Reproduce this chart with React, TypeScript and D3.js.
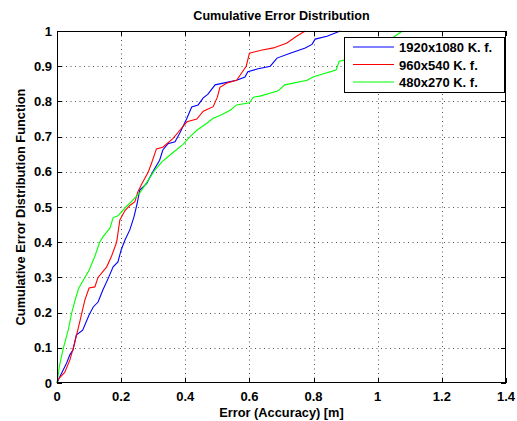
import React from "react";
import * as d3 from "d3";

type P = [number, number];

const blueSeries: P[] = [
  [0, 0], [0.01, 0.02], [0.03, 0.057], [0.04, 0.08], [0.05, 0.094], [0.06, 0.136], [0.08, 0.15],
  [0.1, 0.193], [0.113, 0.216], [0.128, 0.23], [0.143, 0.264], [0.16, 0.298], [0.175, 0.33],
  [0.19, 0.344], [0.2, 0.378], [0.212, 0.406], [0.227, 0.435], [0.24, 0.472], [0.25, 0.51],
  [0.258, 0.548], [0.28, 0.567], [0.29, 0.585], [0.305, 0.61], [0.32, 0.633], [0.33, 0.662],
  [0.346, 0.68], [0.368, 0.685], [0.383, 0.71], [0.404, 0.75], [0.42, 0.784], [0.44, 0.79],
  [0.456, 0.81], [0.47, 0.82], [0.493, 0.847], [0.518, 0.852], [0.56, 0.86], [0.586, 0.869],
  [0.595, 0.884], [0.624, 0.892], [0.665, 0.9], [0.686, 0.923], [0.727, 0.937], [0.774, 0.952],
  [0.795, 0.962], [0.805, 0.977], [0.842, 0.985], [0.883, 1.0],
];

const redSeries: P[] = [
  [0, 0], [0.003, 0.01], [0.024, 0.03], [0.04, 0.065], [0.055, 0.113], [0.07, 0.17], [0.087, 0.236],
  [0.1, 0.27], [0.118, 0.273], [0.128, 0.3], [0.155, 0.33], [0.17, 0.36], [0.186, 0.4],
  [0.196, 0.463], [0.212, 0.49], [0.228, 0.505], [0.243, 0.515], [0.252, 0.543], [0.265, 0.567],
  [0.285, 0.6], [0.295, 0.625], [0.31, 0.665], [0.33, 0.67], [0.362, 0.695], [0.383, 0.718],
  [0.405, 0.742], [0.436, 0.75], [0.456, 0.772], [0.487, 0.785], [0.5, 0.812], [0.508, 0.84],
  [0.53, 0.852], [0.56, 0.86], [0.575, 0.88], [0.59, 0.9], [0.6, 0.937], [0.64, 0.946],
  [0.675, 0.952], [0.717, 0.966], [0.748, 0.986], [0.774, 1.0],
];

const greenSeries: P[] = [
  [0, 0], [0.008, 0.05], [0.02, 0.1], [0.035, 0.15], [0.046, 0.2], [0.058, 0.24], [0.068, 0.27],
  [0.087, 0.3], [0.1, 0.32], [0.118, 0.36], [0.133, 0.4], [0.143, 0.415], [0.165, 0.44],
  [0.175, 0.47], [0.19, 0.475], [0.2, 0.485], [0.215, 0.5], [0.237, 0.52], [0.258, 0.54],
  [0.28, 0.57], [0.305, 0.605], [0.327, 0.628], [0.358, 0.652], [0.393, 0.678], [0.415, 0.7],
  [0.436, 0.718], [0.467, 0.738], [0.487, 0.752], [0.508, 0.76], [0.54, 0.775], [0.56, 0.79],
  [0.6, 0.796], [0.612, 0.812], [0.633, 0.815], [0.69, 0.83], [0.71, 0.847], [0.78, 0.86],
  [0.8, 0.87], [0.87, 0.889], [0.88, 0.914], [0.9, 0.918], [1.05, 0.983], [1.077, 1.0],
];

const seriesNames = ["1920x1080 K. f.", "960x540 K. f.", "480x270 K. f."];
const seriesColors = ["#0000ff", "#ff0000", "#00ff00"];
const xTicks = [0, 0.2, 0.4, 0.6, 0.8, 1, 1.2, 1.4];
const yTicks = [0, 0.1, 0.2, 0.3, 0.4, 0.5, 0.6, 0.7, 0.8, 0.9, 1];

const W = 517, H = 421;
const L = 57, R = 506, T = 31, B = 383;
const FONT = "'Liberation Sans', Arial, sans-serif";

export default function App() {
  const x = d3.scaleLinear().domain([0, 1.4]).range([L, R]);
  const y = d3.scaleLinear().domain([0, 1]).range([B, T]);
  const line = d3.line<P>().x((d) => x(d[0])).y((d) => y(d[1]));
  const all = [blueSeries, redSeries, greenSeries];
  const fmt = (v: number) => String(+v.toFixed(1));
  const legX = 344, legY = 37, legW = 160, legH = 55;
  const rowY = [47, 64.5, 82];

  return (
    <svg width={W} height={H} style={{ position: "absolute", left: 0, top: 0, background: "#fff" }}
      fontFamily={FONT}>
      <rect x={0} y={0} width={W} height={H} fill="#fff" />
      {/* grid */}
      <g stroke="#555" strokeWidth={1} strokeDasharray="1 3.5">
        {xTicks.slice(1, -1).map((t) => (
          <line key={"gx" + t} x1={Math.round(x(t)) + 0.5} x2={Math.round(x(t)) + 0.5} y1={T} y2={B} />
        ))}
        {yTicks.slice(1, -1).map((t) => (
          <line key={"gy" + t} x1={L} x2={R} y1={Math.round(y(t)) + 0.5} y2={Math.round(y(t)) + 0.5} />
        ))}
      </g>
      {/* ticks */}
      <g stroke="#000" strokeWidth={1}>
        {xTicks.map((t) => {
          const px = Math.round(x(t)) + 0.5;
          return (
            <g key={"tx" + t}>
              <line x1={px} x2={px} y1={B} y2={B - 5} />
              <line x1={px} x2={px} y1={T} y2={T + 5} />
            </g>
          );
        })}
        {yTicks.map((t) => {
          const py = Math.round(y(t)) + 0.5;
          return (
            <g key={"ty" + t}>
              <line x1={L} x2={L + 5} y1={py} y2={py} />
              <line x1={R} x2={R - 5} y1={py} y2={py} />
            </g>
          );
        })}
      </g>
      {/* series */}
      <g fill="none" strokeWidth={1.1}>
        {all.map((s, i) => (
          <path key={"s" + i} d={line(s) || ""} stroke={seriesColors[i]} />
        ))}
      </g>
      {/* frame */}
      <rect x={L + 0.5} y={T + 0.5} width={R - L - 1} height={B - T - 1} fill="none" stroke="#000" strokeWidth={1} />
      {/* tick labels */}
      <g fontSize={13} fontWeight="bold" fill="#000">
        {xTicks.map((t) => (
          <text key={"lx" + t} x={x(t)} y={401} textAnchor="middle">{fmt(t)}</text>
        ))}
        {yTicks.map((t) => (
          <text key={"ly" + t} x={52} y={y(t) + 4.5} textAnchor="end">{fmt(t)}</text>
        ))}
      </g>
      {/* titles */}
      <text x={(L + R) / 2} y={20} textAnchor="middle" fontSize={12.6} fontWeight="bold">Cumulative Error Distribution</text>
      <text x={(L + R) / 2} y={417} textAnchor="middle" fontSize={12.8} fontWeight="bold">Error (Accuracy) [m]</text>
      <text transform={`translate(25, ${(T + B) / 2}) rotate(-90)`} textAnchor="middle" fontSize={12.8} fontWeight="bold">
        Cumulative Error Distribution Function
      </text>
      {/* legend */}
      <rect x={legX + 0.5} y={legY + 0.5} width={legW} height={legH} fill="#fff" stroke="#000" strokeWidth={1} />
      {seriesNames.map((n, i) => (
        <g key={"lg" + i}>
          <line x1={353} x2={394} y1={rowY[i]} y2={rowY[i]} stroke={seriesColors[i]} strokeWidth={1.1} />
          <text x={399} y={rowY[i] + 5} fontSize={13} fontWeight="bold">{n}</text>
        </g>
      ))}
    </svg>
  );
}
